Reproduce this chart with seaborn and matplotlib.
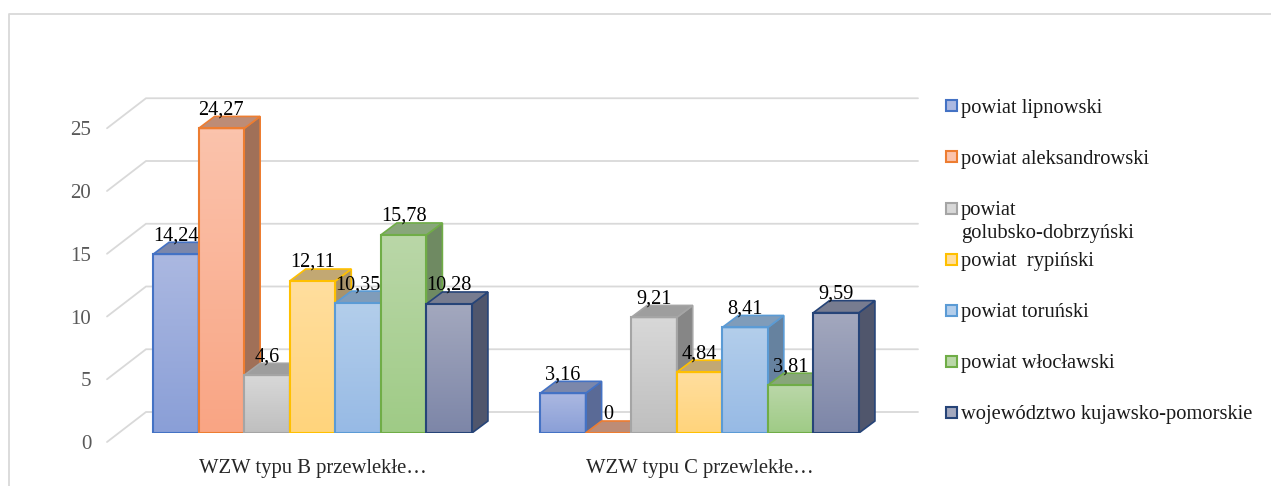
import matplotlib
matplotlib.use("Agg")
import matplotlib.pyplot as plt
import matplotlib.transforms as mtrans
from matplotlib.colors import LinearSegmentedColormap
from matplotlib.lines import Line2D
from matplotlib.patches import Polygon, Rectangle
import numpy as np
import pandas as pd
import seaborn as sns

categories = ["WZW typu B przewlekłe…", "WZW typu C przewlekłe…"]
counties = [
    "powiat lipnowski",
    "powiat aleksandrowski",
    "powiat\ngolubsko-dobrzyński",
    "powiat  rypiński",
    "powiat toruński",
    "powiat włocławski",
    "województwo kujawsko-pomorskie",
]
values_b = [14.24, 24.27, 4.6, 12.11, 10.35, 15.78, 10.28]
values_c = [3.16, 0, 9.21, 4.84, 8.41, 3.81, 9.59]
y_ticks = [0, 5, 10, 15, 20, 25]

edge_colors = ["#4472C4", "#ED7D31", "#A5A5A5", "#FFC000", "#5B9BD5", "#70AD47", "#264478"]
grad_top = ["#ABB8E1", "#FBC3AC", "#D8D8D8", "#FFDE9E", "#B3CEEB", "#BAD7A8", "#A3A8BE"]
grad_bottom = ["#8A9FD7", "#F9A584", "#BFBFBF", "#FFD47C", "#97BAE5", "#9FCB86", "#7D86A8"]
top_colors = ["#7B87AB", "#BD8C76", "#9E9E9E", "#C2A873", "#7F9CBA", "#88A67A", "#777C90"]
side_colors = ["#5A6A96", "#A07058", "#868686", "#A8926A", "#66829F", "#6F8A62", "#50566C"]

W, H = 1271, 486
X_LEFT, X_RIGHT, Y_ZERO = 119, 893, 433
PX_Y = 12.55  # pixels per unit on the value axis
PX_X = (X_RIGHT - X_LEFT) / 2
YMAX = 30

df = pd.DataFrame({
    "kategoria": np.repeat(categories, len(counties)),
    "powiat": counties * 2,
    "wartosc": values_b + values_c,
})

sns.set_theme(style="white")
plt.rcParams["font.family"] = ["Liberation Serif", "DejaVu Serif"]

fig = plt.figure(figsize=(W / 100, H / 100), dpi=100)
ax = fig.add_axes([X_LEFT / W, 1 - Y_ZERO / H, (X_RIGHT - X_LEFT) / W, YMAX * PX_Y / H])
sns.barplot(data=df, x="kategoria", y="wartosc", hue="powiat", hue_order=counties,
            palette=edge_colors, width=0.824, gap=0, saturation=1, legend=False, ax=ax)

dx_bar, dy_bar = 16 / PX_X, 12 / PX_Y


def to_x(px):
    return (px - X_LEFT) / PX_X - 0.5


# back wall gridlines and the diagonal at the left
for t in y_ticks:
    back = t + 21 / PX_Y
    front = t - 9 / PX_Y
    ax.plot([to_x(107), to_x(146), to_x(918)], [front, back, back], color="#D9D9D9",
            lw=1.3, clip_on=False, zorder=1, solid_joinstyle="miter")

# bars: every one is painted over the one on its left
for i, container in enumerate(ax.containers):
    cmap = LinearSegmentedColormap.from_list("g", [grad_top[i], grad_bottom[i]])
    for patch in container:
        x0, w, h = patch.get_x(), patch.get_width(), patch.get_height()
        z = 3 + i
        if h > 0:
            ax.imshow(np.linspace(0, 1, 64).reshape(-1, 1), cmap=cmap, aspect="auto",
                      extent=[x0, x0 + w, 0, h], zorder=z)
        patch.set(facecolor="none", edgecolor=edge_colors[i], linewidth=1.5, zorder=z + 0.2)
        side = [(x0 + w, 0), (x0 + w + dx_bar, dy_bar), (x0 + w + dx_bar, h + dy_bar), (x0 + w, h)]
        top = [(x0, h), (x0 + dx_bar, h + dy_bar), (x0 + w + dx_bar, h + dy_bar), (x0 + w, h)]
        ax.add_patch(Polygon(side, closed=True, facecolor=side_colors[i], edgecolor=edge_colors[i],
                             lw=1.2, zorder=z + 0.1))
        ax.add_patch(Polygon(top, closed=True, facecolor=top_colors[i], edgecolor=edge_colors[i],
                             lw=1.2, zorder=z + 0.1))
        label = f"{h:g}".replace(".", ",")
        ax.text(x0 + w / 2, h + 14 / PX_Y, label, ha="center", va="baseline", fontsize=14.6,
                color="black", zorder=20)

ax.set_xlim(-0.5, 1.5)
ax.set_ylim(0, YMAX)
ax.set_xlabel("")
ax.set_ylabel("")
sns.despine(ax=ax, left=True, bottom=True)

ax.set_yticks(y_ticks)
ax.tick_params(axis="y", length=0, pad=20, labelsize=15, labelcolor="#595959")
ax.tick_params(axis="x", length=0, pad=19, labelsize=14.9, labelcolor="#262626")
shift = mtrans.ScaledTranslation(0, -9 / 100, fig.dpi_scale_trans)
for lab in ax.get_yticklabels():
    lab.set_transform(lab.get_transform() + shift)

# legend, rows are 51 px apart
for i, name in enumerate(counties):
    yc = 106 + 51 * i
    fig.add_artist(Rectangle((946 / W, 1 - (yc + 5.5) / H), 11 / W, 11 / H, transform=fig.transFigure,
                             facecolor=grad_top[i], edgecolor=edge_colors[i], lw=1.5))
    fig.text(961 / W, 1 - (yc - 7) / H, name, ha="left", va="top", fontsize=14.8,
             color="#1a1a1a", linespacing=1.3)

# frame of the picture
fig.add_artist(Line2D([9 / W, 9 / W, 1], [0, 1 - 14 / H, 1 - 14 / H], transform=fig.transFigure,
                      color="#D9D9D9", lw=1.3))

fig.savefig("out.png", dpi=100)
